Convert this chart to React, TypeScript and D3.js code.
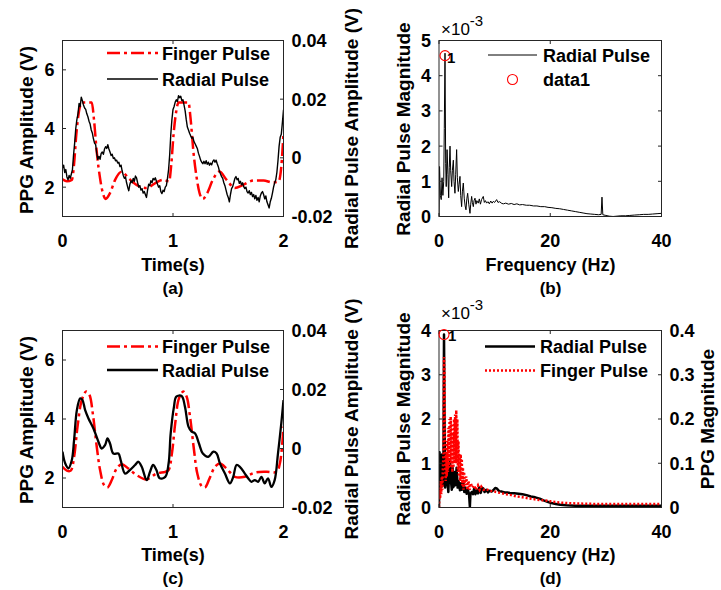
import React from 'react';
import * as d3 from 'd3';

// ---------- tick values ----------
const timeTicks = [0, 1, 2];
const ppgTicks = [2, 4, 6];
const radialAmpTicks = [-0.02, 0, 0.02, 0.04];
const freqTicks = [0, 20, 40];
const specTicksB = [0, 1, 2, 3, 4, 5]; // ×10^-3
const specTicksD = [0, 1, 2, 3, 4]; // ×10^-3
const ppgMagTicks = [0, 0.1, 0.2, 0.3, 0.4];

// ---------- (a) time series: [time s, value] ----------
const fingerA: [number, number][] = [
  [0, 2.27], [0.04, 2.2], [0.085, 2.25], [0.105, 2.8], [0.125, 3.8], [0.15, 4.6], [0.175, 4.89],
  [0.265, 4.89], [0.285, 4.3], [0.31, 3.2], [0.34, 2.3], [0.365, 1.8], [0.39, 1.6], [0.43, 1.8],
  [0.476, 2.25], [0.536, 2.53], [0.596, 2.31], [0.67, 2.08], [0.76, 1.97], [0.84, 2.14], [0.91, 2.25],
  [0.965, 2.2], [0.985, 2.8], [1.005, 3.8], [1.03, 4.6], [1.05, 4.89], [1.14, 4.89], [1.16, 4.3],
  [1.185, 3.2], [1.215, 2.3], [1.24, 1.8], [1.27, 1.6], [1.31, 1.8], [1.36, 2.25], [1.42, 2.53],
  [1.485, 2.25], [1.56, 1.97], [1.635, 2.08], [1.73, 2.23], [1.82, 2.23], [1.9, 2.16], [1.955, 2.19],
  [1.98, 2.7], [2.0, 3.84],
];

const radialA: [number, number][] = [
  [0.0, -0.0035], [0.01, -0.0025], [0.02, -0.005], [0.03, -0.004], [0.04, -0.0065], [0.05, -0.0075],
  [0.06, -0.006], [0.07, -0.007], [0.08, -0.0055], [0.09, -0.004], [0.1, 0.001], [0.11, 0.005],
  [0.12, 0.01], [0.13, 0.013], [0.14, 0.015], [0.15, 0.0185], [0.16, 0.0175], [0.17, 0.0207],
  [0.18, 0.0195], [0.19, 0.018], [0.2, 0.017], [0.21, 0.0165], [0.22, 0.015], [0.23, 0.014],
  [0.24, 0.0125], [0.25, 0.0115], [0.26, 0.0095], [0.27, 0.0085], [0.28, 0.0065], [0.29, 0.005],
  [0.3, 0.0045], [0.31, 0.0015], [0.32, -0.0005], [0.33, 0.0005], [0.34, -0.0005], [0.35, 0.0015],
  [0.36, 0.002], [0.37, 0.0012], [0.38, 0.003], [0.39, 0.0038], [0.4, 0.0032], [0.41, 0.0045],
  [0.42, 0.003], [0.43, 0.002], [0.44, 0.0008], [0.45, 0.0012], [0.46, -0.0002], [0.47, 0.0],
  [0.48, -0.001], [0.49, -0.0008], [0.5, -0.0018], [0.51, -0.0015], [0.52, -0.003], [0.53, -0.0025],
  [0.54, -0.0045], [0.55, -0.006], [0.56, -0.007], [0.57, -0.0065], [0.58, -0.0085], [0.59, -0.01],
  [0.6, -0.0112], [0.61, -0.009], [0.62, -0.0078], [0.63, -0.0085], [0.64, -0.007], [0.65, -0.008],
  [0.66, -0.0062], [0.67, -0.0068], [0.68, -0.0085], [0.69, -0.01], [0.7, -0.0095], [0.71, -0.011],
  [0.72, -0.0105], [0.73, -0.012], [0.74, -0.0115], [0.75, -0.0125], [0.76, -0.0135], [0.77, -0.011],
  [0.78, -0.009], [0.79, -0.0095], [0.8, -0.0078], [0.81, -0.0085], [0.82, -0.007], [0.83, -0.0075],
  [0.84, -0.0068], [0.85, -0.008], [0.86, -0.009], [0.87, -0.01], [0.88, -0.0095], [0.89, -0.0115],
  [0.9, -0.0122], [0.91, -0.011], [0.92, -0.0115], [0.93, -0.01], [0.94, -0.0095], [0.95, -0.007],
  [0.96, -0.004], [0.97, 0.001], [0.98, 0.008], [0.99, 0.013], [1.0, 0.0165], [1.01, 0.0175],
  [1.02, 0.019], [1.03, 0.0198], [1.04, 0.0192], [1.05, 0.0212], [1.06, 0.0205], [1.07, 0.021],
  [1.08, 0.0195], [1.09, 0.0198], [1.1, 0.018], [1.11, 0.016], [1.12, 0.013], [1.13, 0.0105],
  [1.14, 0.0095], [1.15, 0.0084], [1.16, 0.0075], [1.17, 0.0067], [1.18, 0.007], [1.19, 0.0055],
  [1.2, 0.0048], [1.21, 0.004], [1.22, 0.0032], [1.23, 0.0016], [1.24, 0.0005], [1.25, -0.0008],
  [1.26, -0.0015], [1.27, -0.002], [1.28, -0.0012], [1.29, -0.002], [1.3, -0.001], [1.31, -0.0022],
  [1.32, -0.0015], [1.33, -0.0025], [1.34, -0.0018], [1.35, -0.0024], [1.36, -0.0012], [1.37, -0.0007],
  [1.38, -0.0015], [1.39, -0.0008], [1.4, -0.002], [1.41, -0.003], [1.42, -0.0045], [1.43, -0.0055],
  [1.44, -0.0064], [1.45, -0.007], [1.46, -0.0085], [1.47, -0.0095], [1.48, -0.011], [1.49, -0.0125],
  [1.5, -0.0135], [1.51, -0.015], [1.52, -0.0125], [1.53, -0.0105], [1.54, -0.0098], [1.55, -0.0085],
  [1.56, -0.007], [1.57, -0.0064], [1.58, -0.0075], [1.59, -0.007], [1.6, -0.0087], [1.61, -0.008],
  [1.62, -0.0092], [1.63, -0.0085], [1.64, -0.0098], [1.65, -0.0105], [1.66, -0.01], [1.67, -0.0115],
  [1.68, -0.012], [1.69, -0.0112], [1.7, -0.0125], [1.71, -0.0118], [1.72, -0.0132], [1.73, -0.0125],
  [1.74, -0.014], [1.75, -0.0128], [1.76, -0.0145], [1.77, -0.0135], [1.78, -0.015], [1.79, -0.013],
  [1.8, -0.012], [1.81, -0.0115], [1.82, -0.0125], [1.83, -0.014], [1.84, -0.013], [1.85, -0.015],
  [1.86, -0.016], [1.87, -0.0171], [1.88, -0.015], [1.89, -0.0138], [1.9, -0.012], [1.91, -0.01],
  [1.92, -0.0085], [1.93, -0.0075], [1.94, -0.005], [1.95, -0.001], [1.96, 0.0039], [1.97, 0.007],
  [1.98, 0.008], [1.99, 0.012], [2.0, 0.0164],
];

// ---------- (c) time series ----------
const fingerC: [number, number][] = [
  [0, 2.38], [0.039, 2.25], [0.075, 2.25], [0.105, 2.72], [0.136, 3.74], [0.175, 4.65], [0.214, 4.93],
  [0.244, 4.82], [0.274, 4.19], [0.31, 3.06], [0.34, 2.27], [0.376, 1.76], [0.407, 1.68], [0.446, 1.93],
  [0.49, 2.32], [0.536, 2.47], [0.596, 2.32], [0.67, 2.1], [0.76, 1.95], [0.85, 2.15], [0.93, 2.21],
  [0.96, 2.27], [0.99, 2.83], [1.02, 3.85], [1.054, 4.7], [1.093, 4.93], [1.123, 4.76], [1.154, 4.08],
  [1.19, 2.95], [1.22, 2.15], [1.26, 1.72], [1.29, 1.68], [1.33, 1.98], [1.38, 2.38], [1.425, 2.49],
  [1.485, 2.32], [1.56, 2.04], [1.65, 2.04], [1.74, 2.18], [1.846, 2.21], [1.937, 2.21], [1.967, 2.49],
  [2.0, 3.74],
];

const radialC: [number, number][] = [
  [0, -0.0011], [0.024, -0.005], [0.054, -0.0067], [0.084, -0.004], [0.105, 0.0029], [0.13, 0.013],
  [0.16, 0.017], [0.18, 0.0165], [0.205, 0.013], [0.235, 0.0102], [0.28, 0.0068], [0.325, 0.0023],
  [0.355, 0.0], [0.386, 0.0012], [0.407, 0.0034], [0.43, 0.0017], [0.46, -0.0017], [0.506, -0.0017],
  [0.527, -0.004], [0.566, -0.0085], [0.61, -0.0073], [0.657, -0.0056], [0.687, -0.0045], [0.717, -0.0062],
  [0.762, -0.0107], [0.792, -0.0079], [0.82, -0.0056], [0.85, -0.0073], [0.88, -0.0101], [0.93, -0.0096],
  [0.96, -0.0051], [0.979, 0.0051], [1.009, 0.0142], [1.03, 0.0176], [1.078, 0.0178], [1.108, 0.0142],
  [1.14, 0.0074], [1.169, 0.0057], [1.2, 0.0051], [1.235, 0.0017], [1.27, -0.0017], [1.32, -0.0028],
  [1.365, -0.0011], [1.395, -0.0017], [1.425, -0.0051], [1.47, -0.0085], [1.515, -0.0118], [1.545, -0.0096],
  [1.575, -0.0056], [1.605, -0.0062], [1.65, -0.0085], [1.68, -0.0101], [1.71, -0.0113], [1.74, -0.0107],
  [1.77, -0.0113], [1.8, -0.0096], [1.83, -0.0118], [1.86, -0.0101], [1.89, -0.013], [1.92, -0.0107],
  [1.95, -0.0017], [1.98, 0.0085], [2.0, 0.0164],
];

// ---------- (b) spectrum: [Hz, magnitude ×10^-3] ----------
const radialSpecB: [number, number][] = [
  [0, 0], [0.1, 1.42], [0.25, 0.6], [0.4, 0.48], [0.55, 1.1], [0.7, 0.6], [0.85, 1.0], [0.95, 2.5],
  [1.08, 4.64], [1.2, 1.5], [1.3, 0.85], [1.45, 1.9], [1.6, 1.2], [1.74, 0.53], [1.85, 1.4], [1.98, 2.0],
  [2.1, 1.3], [2.28, 0.85], [2.4, 1.3], [2.58, 1.6], [2.7, 1.0], [2.87, 0.66], [3.0, 1.2], [3.17, 1.9],
  [3.3, 1.1], [3.47, 0.71], [3.6, 0.9], [3.77, 1.14], [3.9, 0.6], [4.07, 0.28], [4.2, 0.7], [4.37, 0.95],
  [4.55, 0.5], [4.7, 0.3], [4.85, 0.19], [5.0, 0.5], [5.15, 0.66], [5.35, 0.35], [5.57, 0.09], [5.7, 0.35],
  [5.87, 0.57], [6.0, 0.4], [6.17, 0.28], [6.3, 0.45], [6.47, 0.52], [6.65, 0.35], [6.8, 0.45], [7.06, 0.38],
  [7.25, 0.5], [7.45, 0.35], [7.65, 0.48], [7.96, 0.57], [8.15, 0.4], [8.35, 0.45], [8.56, 0.38], [8.8, 0.42],
  [9.05, 0.36], [9.3, 0.44], [9.55, 0.38], [9.76, 0.43], [10.0, 0.4], [10.36, 0.48], [10.6, 0.4], [10.9, 0.42],
  [11.3, 0.37], [11.6, 0.36], [12.0, 0.38], [12.5, 0.35], [13.0, 0.37], [13.5, 0.34], [14.0, 0.36],
  [14.5, 0.33], [15.0, 0.34], [15.7, 0.32], [16.3, 0.32], [17.0, 0.3], [17.6, 0.3], [18.3, 0.28],
  [19.0, 0.28], [19.6, 0.26], [20.3, 0.25], [21.0, 0.23], [21.7, 0.22], [22.4, 0.2], [23.1, 0.18],
  [23.8, 0.16], [24.5, 0.14], [25.2, 0.12], [25.9, 0.1], [26.6, 0.08], [27.3, 0.07], [28.0, 0.06],
  [28.7, 0.05], [29.15, 0.06], [29.3, 0.55], [29.45, 0.05], [30.0, 0.03], [30.6, 0.01], [31.3, 0.0],
  [32.0, 0.01], [32.7, 0.02], [33.5, 0.02], [34.3, 0.03], [35.1, 0.04], [36.0, 0.05], [36.8, 0.06],
  [37.6, 0.06], [38.4, 0.07], [39.2, 0.08], [40.0, 0.09],
];
const peakB: [number, number] = [1.08, 4.57];

// ---------- (d) spectra ----------
const radialSpecD: [number, number][] = [
  [0, 0], [0.1, 1.25], [0.25, 0.5], [0.4, 0.46], [0.55, 1.2], [0.7, 0.5], [0.8, 1.0], [0.9, 3.91],
  [1.0, 2.0], [1.1, 0.45], [1.2, 0.6], [1.35, 1.0], [1.5, 0.6], [1.68, 0.35], [1.85, 0.9], [1.98, 1.06],
  [2.15, 0.6], [2.3, 0.4], [2.45, 0.9], [2.58, 0.46], [2.75, 0.8], [2.9, 0.5], [3.05, 0.7], [3.17, 0.9],
  [3.35, 0.45], [3.5, 0.6], [3.77, 0.39], [3.95, 0.55], [4.1, 0.4], [4.37, 0.6], [4.55, 0.35], [4.75, 0.45],
  [4.97, 0.31], [5.2, 0.4], [5.4, 0.3], [5.55, 0.02], [5.65, 0.3], [5.87, 0.35], [6.1, 0.3], [6.3, 0.42],
  [6.55, 0.3], [6.77, 0.39], [7.0, 0.32], [7.25, 0.45], [7.5, 0.33], [7.75, 0.44], [7.96, 0.43], [8.2, 0.35],
  [8.5, 0.4], [8.8, 0.34], [9.1, 0.38], [9.45, 0.36], [9.76, 0.39], [10.1, 0.44], [10.4, 0.43], [10.8, 0.37],
  [11.3, 0.36], [11.8, 0.34], [12.3, 0.34], [12.75, 0.33], [13.5, 0.32], [14.3, 0.31], [15.0, 0.3],
  [15.75, 0.28], [16.5, 0.25], [17.3, 0.23], [18.1, 0.2], [18.8, 0.16], [19.5, 0.13], [20.2, 0.1],
  [21.0, 0.08], [21.8, 0.06], [22.9, 0.05], [24.5, 0.04], [28, 0.04], [32, 0.04], [36, 0.04], [40, 0.04],
];
const fingerSpecD: [number, number][] = [
  [0, 0.0], [0.1, 0.04], [0.2, 0.02], [0.3, 0.06], [0.4, 0.03], [0.5, 0.07], [0.6, 0.04], [0.7, 0.09],
  [0.8, 0.12], [0.9, 0.34], [1.0, 0.3], [1.1, 0.1], [1.2, 0.06], [1.3, 0.12], [1.4, 0.07], [1.5, 0.15],
  [1.6, 0.08], [1.7, 0.18], [1.8, 0.09], [1.9, 0.2], [2.0, 0.1], [2.1, 0.205], [2.2, 0.09], [2.3, 0.19],
  [2.4, 0.08], [2.5, 0.17], [2.6, 0.09], [2.7, 0.2], [2.8, 0.1], [2.9, 0.21], [3.0, 0.1], [3.1, 0.22],
  [3.2, 0.1], [3.3, 0.2], [3.4, 0.08], [3.5, 0.15], [3.6, 0.07], [3.7, 0.12], [3.8, 0.06], [3.9, 0.12],
  [4.0, 0.06], [4.1, 0.11], [4.2, 0.05], [4.3, 0.09], [4.4, 0.04], [4.5, 0.08], [4.7, 0.05], [4.9, 0.07],
  [5.1, 0.04], [5.3, 0.06], [5.5, 0.04], [5.7, 0.055], [6.0, 0.045], [6.3, 0.05], [6.6, 0.04], [7.0, 0.05],
  [7.3, 0.04], [7.6, 0.047], [8.0, 0.04], [8.5, 0.042], [9.0, 0.038], [9.5, 0.037], [10, 0.036], [11, 0.033],
  [12, 0.03], [13, 0.028], [14, 0.025], [15, 0.023], [16, 0.021], [17, 0.019], [18, 0.017], [19, 0.016],
  [20, 0.014], [21, 0.012], [22, 0.011], [23, 0.01], [25, 0.009], [28, 0.008], [32, 0.008], [36, 0.008],
  [40, 0.008],
];
const peakD: [number, number] = [0.9, 3.91];

// ---------- layout / style ----------
const FONT = "'Liberation Sans', Arial, Helvetica, sans-serif";
const TICK_FS = 18;
const LABEL_FS = 18;
const VLABEL_FS = 19;
const AX = '#262626';
const RED = '#ff0000';

type Box = { x0: number; x1: number; y0: number; y1: number };
const boxA: Box = { x0: 62.5, x1: 283.5, y0: 40.5, y1: 216.5 };
const boxB: Box = { x0: 439, x1: 661.5, y0: 40.5, y1: 216.5 };
const boxC: Box = { x0: 62.5, x1: 283.5, y0: 330.5, y1: 507.5 };
const boxD: Box = { x0: 439, x1: 661.5, y0: 330.5, y1: 507.5 };

const fmtR = (v: number) => (v === 0 ? '0' : v.toFixed(2));
const fmtP = (v: number) => (v === 0 ? '0' : v.toFixed(1));
const fmtI = (v: number) => String(v);

type Scale = d3.ScaleLinear<number, number>;

function Frame(props: {
  id: string; box: Box; x: Scale; xTicks: number[]; xFmt: (v: number) => string;
  yL: Scale; yLTicks: number[]; yLFmt: (v: number) => string;
  yR?: Scale; yRTicks?: number[]; yRFmt?: (v: number) => string;
}) {
  const { box, x, xTicks, xFmt, yL, yLTicks, yLFmt, yR, yRTicks, yRFmt } = props;
  const tl = 3.5;
  return (
    <g fontFamily={FONT} fontWeight="bold" fontSize={TICK_FS} fill="#000">
      <rect x={box.x0} y={box.y0} width={box.x1 - box.x0} height={box.y1 - box.y0} fill="none" stroke={AX} strokeWidth={1} />
      {xTicks.map((t) => (
        <g key={'x' + t}>
          <line x1={x(t)} x2={x(t)} y1={box.y1} y2={box.y1 - tl} stroke={AX} />
          <line x1={x(t)} x2={x(t)} y1={box.y0} y2={box.y0 + tl} stroke={AX} />
          <text x={x(t)} y={box.y1 + 30} textAnchor="middle">{xFmt(t)}</text>
        </g>
      ))}
      {yLTicks.map((t) => (
        <g key={'yl' + t}>
          <line x1={box.x0} x2={box.x0 + tl} y1={yL(t)} y2={yL(t)} stroke={AX} />
          {!yR && <line x1={box.x1} x2={box.x1 - tl} y1={yL(t)} y2={yL(t)} stroke={AX} />}
          <text x={box.x0 - 8} y={yL(t)} dy="0.36em" textAnchor="end">{yLFmt(t)}</text>
        </g>
      ))}
      {yR && yRTicks && yRFmt && yRTicks.map((t) => (
        <g key={'yr' + t}>
          <line x1={box.x1} x2={box.x1 - tl} y1={yR(t)} y2={yR(t)} stroke={AX} />
          <text x={box.x1 + 8} y={yR(t)} dy="0.36em" textAnchor="start">{yRFmt(t)}</text>
        </g>
      ))}
    </g>
  );
}

function VLabel({ x, y, text }: { x: number; y: number; text: string }) {
  return (
    <text transform={`translate(${x},${y}) rotate(-90)`} textAnchor="middle" fontFamily={FONT}
      fontWeight="bold" fontSize={VLABEL_FS} fill="#000">{text}</text>
  );
}

function HText({ x, y, text, size = LABEL_FS, anchor = 'middle' }: { x: number; y: number; text: string; size?: number; anchor?: string }) {
  return (
    <text x={x} y={y} textAnchor={anchor as any} fontFamily={FONT} fontWeight="bold" fontSize={size} fill="#000">{text}</text>
  );
}

function Exp({ x, y }: { x: number; y: number }) {
  return (
    <text x={x} y={y} fontFamily={FONT} fontSize={17} fill="#000">
      ×10<tspan dy={-9} fontSize={15}>-3</tspan>
    </text>
  );
}

export default function App() {
  const xA = d3.scaleLinear().domain([0, 2]).range([boxA.x0, boxA.x1]);
  const yAL = d3.scaleLinear().domain([1, 7]).range([boxA.y1, boxA.y0]);
  const yAR = d3.scaleLinear().domain([-0.02, 0.04]).range([boxA.y1, boxA.y0]);
  const xC = d3.scaleLinear().domain([0, 2]).range([boxC.x0, boxC.x1]);
  const yCL = d3.scaleLinear().domain([1, 7]).range([boxC.y1, boxC.y0]);
  const yCR = d3.scaleLinear().domain([-0.02, 0.04]).range([boxC.y1, boxC.y0]);
  const xB = d3.scaleLinear().domain([0, 40]).range([boxB.x0, boxB.x1]);
  const yB = d3.scaleLinear().domain([0, 5]).range([boxB.y1, boxB.y0]);
  const xD = d3.scaleLinear().domain([0, 40]).range([boxD.x0, boxD.x1]);
  const yDL = d3.scaleLinear().domain([0, 4]).range([boxD.y1, boxD.y0]);
  const yDR = d3.scaleLinear().domain([0, 0.4]).range([boxD.y1, boxD.y0]);

  const mk = (xs: Scale, ys: Scale, curve: d3.CurveFactory = d3.curveLinear) =>
    d3.line<[number, number]>().x((d) => xs(d[0])).y((d) => ys(d[1])).curve(curve);

  const dashDot = '13,4,3,4';

  return (
    <svg width={721} height={590} style={{ position: 'absolute', left: 0, top: 0, background: '#fff' }}>
      <rect x={0} y={0} width={721} height={590} fill="#fff" />
      <defs>
        {[['cA', boxA], ['cB', boxB], ['cC', boxC], ['cD', boxD]].map(([id, b]: any) => (
          <clipPath id={id} key={id}>
            <rect x={b.x0} y={b.y0 - 2} width={b.x1 - b.x0} height={b.y1 - b.y0 + 4} />
          </clipPath>
        ))}
      </defs>

      {/* ---------- (a) ---------- */}
      <g clipPath="url(#cA)">
        <path d={mk(xA, yAL, d3.curveMonotoneX)(fingerA) || ''} fill="none" stroke={RED} strokeWidth={2.5} strokeDasharray={dashDot} />
        <path d={mk(xA, yAR)(radialA) || ''} fill="none" stroke="#000" strokeWidth={1.4} strokeLinejoin="round" />
      </g>
      <Frame id="a" box={boxA} x={xA} xTicks={timeTicks} xFmt={fmtI} yL={yAL} yLTicks={ppgTicks} yLFmt={fmtI}
        yR={yAR} yRTicks={radialAmpTicks} yRFmt={fmtR} />
      <line x1={107} x2={158} y1={53} y2={53} stroke={RED} strokeWidth={2.5} strokeDasharray={dashDot} />
      <HText x={162} y={59.5} text="Finger Pulse" anchor="start" />
      <line x1={107} x2={158} y1={79} y2={79} stroke="#000" strokeWidth={1.4} />
      <HText x={162} y={85.5} text="Radial Pulse" anchor="start" />
      <VLabel x={33} y={130} text="PPG Amplitude (V)" />
      <VLabel x={358} y={128.5} text="Radial Pulse Amplitude (V)" />
      <HText x={173} y={271} text="Time(s)" />
      <HText x={173} y={294} text="(a)" size={17} />

      {/* ---------- (b) ---------- */}
      <g clipPath="url(#cB)">
        <path d={mk(xB, yB)(radialSpecB) || ''} fill="none" stroke="#000" strokeWidth={1} strokeLinejoin="round" />
      </g>
      <Frame id="b" box={boxB} x={xB} xTicks={freqTicks} xFmt={fmtI} yL={yB} yLTicks={specTicksB} yLFmt={fmtI} />
      <circle cx={xB(peakB[0])} cy={yB(peakB[1])} r={5} fill="none" stroke={RED} strokeWidth={1.1} />
      <HText x={xB(peakB[0]) + 2} y={yB(peakB[1]) + 7} text="1" size={15} anchor="start" />
      <Exp x={441} y={35} />
      <line x1={488} x2={537} y1={55} y2={55} stroke="#000" strokeWidth={1} />
      <HText x={543} y={61.5} text="Radial Pulse" anchor="start" />
      <circle cx={512.5} cy={79.5} r={5} fill="none" stroke={RED} strokeWidth={1.1} />
      <HText x={543} y={86} text="data1" anchor="start" />
      <VLabel x={410} y={129} text="Radial Pulse Magnitude" />
      <HText x={550.5} y={271} text="Frequency (Hz)" />
      <HText x={550.5} y={294} text="(b)" size={17} />

      {/* ---------- (c) ---------- */}
      <g clipPath="url(#cC)">
        <path d={mk(xC, yCL, d3.curveCatmullRom)(fingerC) || ''} fill="none" stroke={RED} strokeWidth={2.5} strokeDasharray={dashDot} />
        <path d={mk(xC, yCR, d3.curveCatmullRom)(radialC) || ''} fill="none" stroke="#000" strokeWidth={2.3} strokeLinejoin="round" />
      </g>
      <Frame id="c" box={boxC} x={xC} xTicks={timeTicks} xFmt={fmtI} yL={yCL} yLTicks={ppgTicks} yLFmt={fmtI}
        yR={yCR} yRTicks={radialAmpTicks} yRFmt={fmtR} />
      <line x1={107} x2={158} y1={346.5} y2={346.5} stroke={RED} strokeWidth={2.5} strokeDasharray={dashDot} />
      <HText x={162} y={353} text="Finger Pulse" anchor="start" />
      <line x1={107} x2={158} y1={370} y2={370} stroke="#000" strokeWidth={2.5} />
      <HText x={162} y={376.5} text="Radial Pulse" anchor="start" />
      <VLabel x={33} y={420} text="PPG Amplitude (V)" />
      <VLabel x={358} y={419} text="Radial Pulse Amplitude (V)" />
      <HText x={173} y={561} text="Time(s)" />
      <HText x={173} y={584} text="(c)" size={17} />

      {/* ---------- (d) ---------- */}
      <g clipPath="url(#cD)">
        <path d={mk(xD, yDL)(radialSpecD) || ''} fill="none" stroke="#000" strokeWidth={2.5} strokeLinejoin="round" />
        <path d={mk(xD, yDR)(fingerSpecD) || ''} fill="none" stroke={RED} strokeWidth={2.5} strokeDasharray="2,2" />
      </g>
      <Frame id="d" box={boxD} x={xD} xTicks={freqTicks} xFmt={fmtI} yL={yDL} yLTicks={specTicksD} yLFmt={fmtI}
        yR={yDR} yRTicks={ppgMagTicks} yRFmt={fmtP} />
      <circle cx={xD(peakD[0])} cy={yDL(peakD[1])} r={5} fill="none" stroke={RED} strokeWidth={1.1} />
      <HText x={xD(peakD[0]) + 4} y={yDL(peakD[1]) + 7} text="1" size={15} anchor="start" />
      <Exp x={441} y={319} />
      <line x1={485} x2={535} y1={346.5} y2={346.5} stroke="#000" strokeWidth={2.5} />
      <HText x={540} y={353} text="Radial Pulse" anchor="start" />
      <line x1={485} x2={535} y1={370.5} y2={370.5} stroke={RED} strokeWidth={2.5} strokeDasharray="2,2" />
      <HText x={540} y={377} text="Finger Pulse" anchor="start" />
      <VLabel x={410} y={419} text="Radial Pulse Magnitude" />
      <VLabel x={714} y={419} text="PPG Magnitude" />
      <HText x={550.5} y={561} text="Frequency (Hz)" />
      <HText x={550.5} y={584} text="(d)" size={17} />
    </svg>
  );
}
